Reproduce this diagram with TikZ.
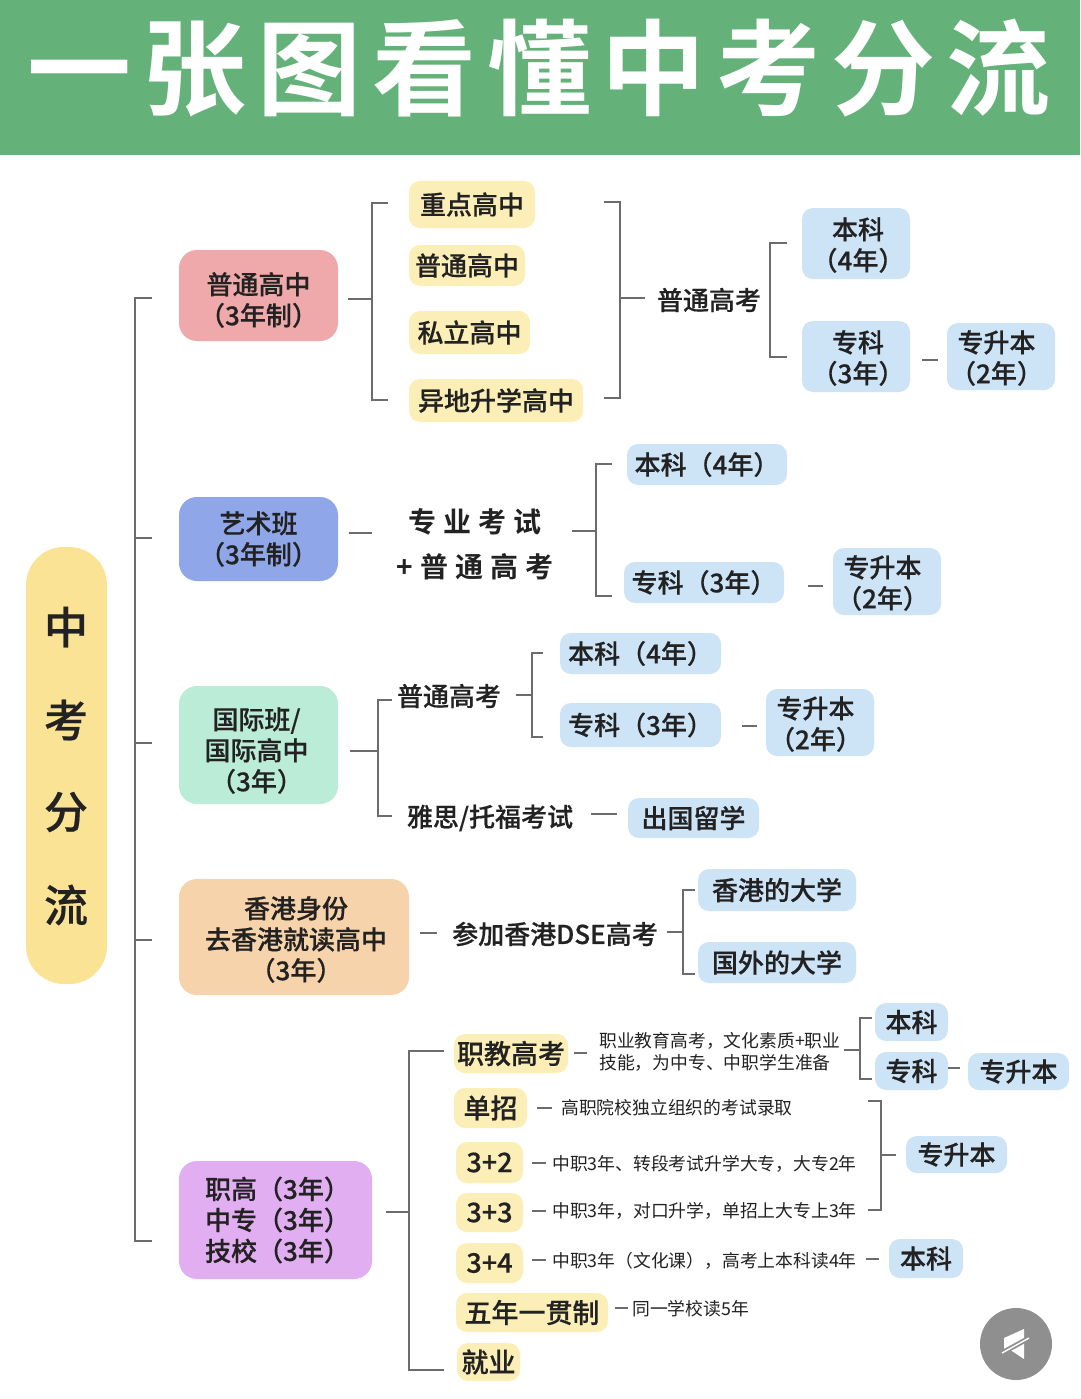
\documentclass[tikz,border=0pt]{standalone}
\usepackage{fontspec}
\setmainfont{Noto Sans CJK SC}[BoldFont={Noto Sans CJK SC Medium},BoldFeatures={FakeBold=0.45}]
\newfontfamily\titlefont[LetterSpace=10.5]{Noto Sans CJK SC Bold}
\newfontfamily\wide[LetterSpace=25]{Noto Sans CJK SC Bold}
\definecolor{band}{HTML}{64B27A}
\definecolor{pill}{HTML}{FBE396}
\definecolor{yel}{HTML}{FBEEB7}
\definecolor{blu}{HTML}{CDE3F6}
\definecolor{pnk}{HTML}{F0A9AA}
\definecolor{art}{HTML}{8FA7E8}
\definecolor{mnt}{HTML}{BBECD8}
\definecolor{org}{HTML}{F6D3AB}
\definecolor{pur}{HTML}{E2AEF2}
\definecolor{ink}{HTML}{222222}
\definecolor{lin}{HTML}{6C6C6C}
\tikzset{
  boxn/.style={rounded corners=#1,inner sep=0pt,align=center,text=ink},
  boxn/.default=11pt,
  conn/.style={draw=lin,line width=2.1pt,line join=miter},
  lab/.style={font=\bfseries\fontsize{26}{31}\selectfont},
  bigl/.style={font=\bfseries\fontsize{27}{31}\selectfont},
  smal/.style={font=\fontsize{17.8}{22}\selectfont,inner sep=0pt,text=ink,anchor=west},
  txt/.style={inner sep=0pt,align=center,text=ink},
}
\newcommand{\dn}[1]{\rule{0pt}{\dimexpr 23pt+2\dimexpr #1pt\relax\relax}}
\newcommand{\lf}{\hspace*{-9pt}}
\newcommand{\rg}{\hspace*{4pt}}
% name, x1,y1,x2,y2, fill, style, text
\newcommand{\bx}[8]{%
  \pgfmathsetmacro{\bw}{#4-#2}\pgfmathsetmacro{\bh}{#5-#3}%
  \pgfmathsetmacro{\bcx}{(#2+#4)/2}\pgfmathsetmacro{\bcy}{(#3+#5)/2}%
  \node[boxn,fill=#6,#7,minimum width=\bw pt,minimum height=\bh pt] (#1) at (\bcx,\bcy) {#8};}
% bracket: name, x, ytop, ybottom, tick
\newcommand{\brk}[5]{%
  \coordinate (#1-t) at (#2,#3);\coordinate (#1-b) at (#2,#4);
  \draw[conn] ([xshift=#5pt]#1-t) -- (#1-t) -- (#1-b) -- ([xshift=#5pt]#1-b);}
% stub from node east to junction coordinate
\newcommand{\jst}[3]{%
  \path (#1.east |- #3) coordinate (tmpa);
  \draw[conn] ([xshift=#2pt]tmpa) -- (#3);}
% dash between two nodes: a,b,gap a,gap b,y
\newcommand{\dsh}[5]{%
  \path (#1.east |- 0,#5) coordinate (tmpa) (#2.west |- 0,#5) coordinate (tmpb);
  \draw[conn] ([xshift=#3pt]tmpa) -- ([xshift=-#4pt]tmpb);}
\begin{document}
\begin{tikzpicture}[x=1pt,y=-1pt]
\useasboundingbox (0,0) rectangle (1080,1399);
\fill[white] (0,0) rectangle (1080,1399);
\node[fill=band,minimum width=1080pt,minimum height=155pt,inner sep=0pt] (band) at (540,77.5) {};
\node[inner sep=0pt,text=white,font=\titlefont\fontsize{104}{104}\selectfont] (title) at (539,68) {一张图看懂中考分流};
% root
\node[fill=pill,rounded corners=38pt,minimum width=81pt,minimum height=437pt,inner sep=0pt] (root) at (66.5,765.5) {};
\node[txt,font=\bfseries\fontsize{44}{44}\selectfont] (r1) at (66,627) {中};
\node[txt,font=\bfseries\fontsize{44}{44}\selectfont] (r2) at (66,720) {考};
\node[txt,font=\bfseries\fontsize{44}{44}\selectfont] (r3) at (66,812) {分};
\node[txt,font=\bfseries\fontsize{44}{44}\selectfont] (r4) at (66,905) {流};
% trunk
\coordinate (t2) at (135,538);\coordinate (t3) at (135,743);\coordinate (t4) at (135,940);
\brk{tr}{135}{298}{1241}{17}
\draw[conn] (t2) -- ([xshift=17pt]t2);
\draw[conn] (t3) -- ([xshift=17pt]t3);
\draw[conn] (t4) -- ([xshift=17pt]t4);
% ---- row 1
\bx{a1}{179}{250}{338}{341}{pnk}{lab,rounded corners=18pt}{\dn{4}普通高中\\（3年制）}
\bx{y1}{409}{181}{535}{228}{yel}{lab}{重点高中}
\bx{y2}{409}{245}{525}{286}{yel}{lab}{普通高中}
\bx{y3}{409}{311}{530}{354}{yel}{lab}{私立高中}
\bx{y4}{409}{379}{583}{422}{yel}{lab}{异地升学高中}
\brk{b1}{372}{203}{400}{16}
\coordinate (j1) at (372,299);
\jst{a1}{10}{j1}
\brk{b2}{620}{202}{398}{-16}
\coordinate (j2) at (620,298);
\node[txt,lab] (g1) at (709,300) {普通高考};
\draw[conn] (j2) -- ([xshift=-12pt]g1.west |- j2);
\brk{b3}{770}{243}{357}{17}
\bx{c1}{802}{208}{910}{279}{blu}{lab}{\dn{1}\rg 本科\\\rg（4年）}
\bx{c2}{802}{321}{910}{392}{blu}{lab}{\dn{1}\rg 专科\\\rg（3年）}
\bx{c3}{947}{323}{1055}{390}{blu}{lab}{\dn{1}\lf 专升本\\\lf（2年）}
\dsh{c2}{c3}{12}{9}{360}
% ---- row 2
\bx{a2}{179}{497}{338}{581}{art}{lab,rounded corners=18pt}{艺术班\\（3年制）}
\node[txt,font=\wide\fontsize{28}{28}\selectfont] (s1) at (475,522) {专业考试};
\node[txt,font=\wide\fontsize{28}{28}\selectfont] (s2) at (475,567) {+普通高考};
\dsh{a2}{s1}{11}{36}{533}
\brk{b4}{596}{464}{596}{16}
\coordinate (j4) at (596,531);
\draw[conn] ([xshift=-24pt]j4) -- (j4);
\bx{d1}{627}{444}{787}{485}{blu}{lab}{本科（4年）}
\bx{d2}{624}{562}{784}{603}{blu}{lab}{专科（3年）}
\bx{d3}{833}{548}{941}{615}{blu}{lab}{\dn{1}\lf 专升本\\\lf（2年）}
\dsh{d2}{d3}{24}{10}{586}
% ---- row 3
\bx{a3}{179}{686}{338}{804}{mnt}{lab,rounded corners=18pt}{\dn{5}\hspace*{-4pt}国际班/\\\hspace*{-4pt}国际高中\\\hspace*{-4pt}（3年）}
\brk{b5}{378}{700}{816}{14}
\coordinate (j5) at (378,751);
\jst{a3}{12}{j5}
\node[txt,lab] (g2) at (449,696) {普通高考};
\brk{b6}{532}{653}{737}{11}
\coordinate (j6) at (532,695);
\draw[conn] ([xshift=-16pt]j6) -- (j6);
\bx{e1}{560}{633}{721}{674}{blu}{lab}{本科（4年）}
\bx{e2}{560}{703}{721}{747}{blu}{lab}{专科（3年）}
\bx{e3}{766}{689}{874}{756}{blu}{lab}{\dn{1}\lf 专升本\\\lf（2年）}
\dsh{e2}{e3}{21}{9}{726}
\node[txt,lab] (ya) at (490,818) {雅思/托福考试};
\bx{e4}{628}{798}{759}{838}{blu}{lab}{出国留学}
\dsh{ya}{e4}{18}{11}{814}
% ---- row 4
\bx{a4}{179}{879}{409}{995}{org}{lab,rounded corners=18pt}{\dn{2}\rg 香港身份\\\rg 去香港就读高中\\\rg（3年）}
\node[txt,lab] (dse) at (555,934) {参加香港DSE高考};
\dsh{a4}{dse}{11}{15}{933}
\brk{b7}{683}{890}{974}{12}
\coordinate (j7) at (683,932);
\draw[conn] ([xshift=-16pt]j7) -- (j7);
\bx{f1}{698}{869}{856}{911}{blu}{lab}{香港的大学}
\bx{f2}{698}{942}{856}{983}{blu}{lab}{国外的大学}
% ---- row 5
\bx{a5}{179}{1161}{372}{1279}{pur}{lab,rounded corners=18pt}{\rg 职高（3年）\\\rg 中专（3年）\\\rg 技校（3年）}
\brk{b8}{409}{1051}{1370}{35}
\coordinate (j8) at (409,1212);
\jst{a5}{14}{j8}
\bx{h1}{454}{1034}{568}{1073}{yel}{bigl}{职教高考}
\bx{h2}{454}{1088}{527}{1128}{yel}{bigl}{单招}
\bx{h3}{456}{1142}{523}{1183}{yel}{bigl}{3+2}
\bx{h4}{456}{1193}{523}{1232}{yel}{bigl}{3+3}
\bx{h5}{456}{1243}{523}{1283}{yel}{bigl}{3+4}
\bx{h6}{456}{1293}{608}{1332}{yel}{bigl}{五年一贯制}
\bx{h7}{457}{1343}{520}{1381}{yel}{bigl}{就业}
\node[smal,align=left] (n1) at (599,1052) {职业教育高考，文化素质+职业\\技能，为中专、中职学生准备};
\node[smal] (n2) at (561,1108) {高职院校独立组织的考试录取};
\node[smal] (n3) at (552,1164) {中职3年、转段考试升学大专，大专2年};
\node[smal] (n4) at (552,1211) {中职3年，对口升学，单招上大专上3年};
\node[smal] (n5) at (552,1261) {中职3年（文化课），高考上本科读4年};
\node[smal] (n6) at (632,1309) {同一学校读5年};
\dsh{h1}{n1}{6}{12}{1053}
\dsh{h2}{n2}{10}{9}{1108}
\dsh{h3}{n3}{9}{6}{1163}
\dsh{h4}{n4}{9}{6}{1211}
\dsh{h5}{n5}{9}{6}{1260}
\dsh{h6}{n6}{7}{4}{1308}
\brk{b9}{860}{1018}{1079}{12}
\coordinate (j9) at (860,1050);
\draw[conn] ([xshift=-16pt]j9) -- (j9);
\bx{k1}{875}{1003}{948}{1041}{blu}{lab}{本科}
\bx{k2}{875}{1052}{948}{1090}{blu}{lab}{专科}
\bx{k3}{968}{1053}{1069}{1090}{blu}{lab}{专升本}
\dsh{k2}{k3}{0}{8}{1068}
\brk{b10}{881}{1101}{1210}{-13}
\coordinate (j10) at (881,1155);
\bx{k4}{906}{1136}{1007}{1173}{blu}{lab}{专升本}
\draw[conn] (j10) -- ([xshift=-10pt]k4.west |- j10);
\bx{k5}{889}{1239}{963}{1278}{blu}{lab}{本科}
\dsh{n5}{k5}{9}{10}{1259}
% sound badge
\node[circle,fill=black!44,minimum size=72pt,inner sep=0pt] (snd) at (1016,1344) {};
\fill[white] (1004,1338) -- (1024,1329) -- (1024,1359) -- (1012,1351) -- (1004,1349) -- cycle;
\draw[black!44,line width=5pt] (1000,1354) -- (1031,1337);
\draw[white,line width=1.4pt] (1002,1353) -- (1029,1338);
\end{tikzpicture}
\end{document}
